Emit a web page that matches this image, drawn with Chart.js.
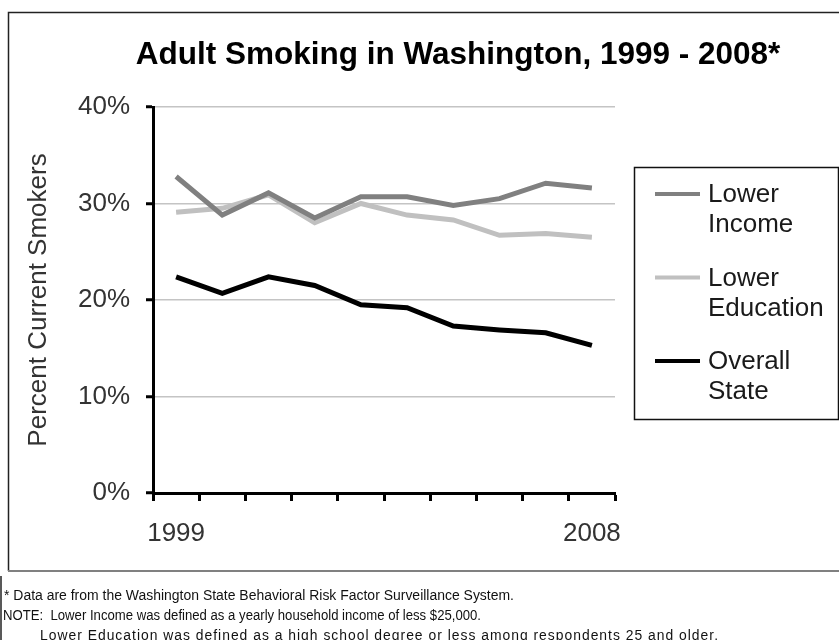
<!DOCTYPE html>
<html>
<head>
<meta charset="utf-8">
<script src="https://cdn.jsdelivr.net/npm/chart.js@4"></script>
<style>
  html, body { margin: 0; padding: 0; background: #fff; }
  #wrap { width: 839px; height: 640px; }
</style>
</head>
<body>
<div id="wrap"><canvas id="smokeChart" width="839" height="640"></canvas></div>
<script>
const YEARS = ["1999", "2000", "2001", "2002", "2003", "2004", "2005", "2006", "2007", "2008"];
const X_TICKS = ["1999", "", "", "", "", "", "", "", "", "2008"];
const Y_TICKS = [0, 10, 20, 30, 40];

const LOWER_INCOME = [32.8, 28.8, 31.1, 28.5, 30.7, 30.7, 29.8, 30.5, 32.1, 31.6];
const LOWER_EDUCATION = [29.1, 29.5, 30.9, 28.0, 30.0, 28.8, 28.3, 26.7, 26.9, 26.5];
const OVERALL_STATE = [22.4, 20.7, 22.4, 21.5, 19.5, 19.2, 17.3, 16.9, 16.6, 15.3];

const TITLE = "Adult Smoking in Washington, 1999 - 2008*";
const Y_TITLE = "Percent Current Smokers";
const NOTES = [
  "* Data are from the Washington State Behavioral Risk Factor Surveillance System.",
  "NOTE:  Lower Income was defined as a yearly household income of less $25,000.",
  "Lower Education was defined as a high school degree or less among respondents 25 and older.",
];

const ctx = document.getElementById("smokeChart").getContext("2d");

// frame, title, legend box and footnotes drawn around the chart
const decor = {
  id: "decor",
  beforeDraw(chart) {
    const c = chart.ctx;
    c.save();
    c.fillStyle = "#fff";
    c.fillRect(0, 0, chart.width, chart.height);
    c.restore();
  },
  afterDraw(chart) {
    const c = chart.ctx;
    c.save();

    // chart frame
    c.strokeStyle = "#222";
    c.lineWidth = 1.5;
    c.beginPath();
    c.moveTo(8.5, 571);
    c.lineTo(8.5, 12.5);
    c.lineTo(845, 12.5);
    c.stroke();
    c.strokeStyle = "#808080";
    c.lineWidth = 2;
    c.beginPath();
    c.moveTo(8, 571);
    c.lineTo(839, 571);
    c.stroke();

    // notes box edge
    c.strokeStyle = "#222";
    c.lineWidth = 1.5;
    c.beginPath();
    c.moveTo(1, 576);
    c.lineTo(1, 640);
    c.stroke();

    // title
    c.fillStyle = "#000";
    c.font = "bold 31.5px 'Liberation Sans', Arial, sans-serif";
    c.textAlign = "center";
    c.textBaseline = "middle";
    c.fillText(TITLE, 458, 55);

    // legend
    c.strokeStyle = "#111";
    c.lineWidth = 1.5;
    c.strokeRect(634.5, 167.5, 204, 252);
    c.font = "26px 'Liberation Sans', Arial, sans-serif";
    c.textAlign = "left";
    chart.data.datasets.forEach((ds, i) => {
      const y = 194 + i * 83.5;
      c.strokeStyle = ds.borderColor;
      c.lineWidth = 4;
      c.beginPath();
      c.moveTo(655, y);
      c.lineTo(700, y);
      c.stroke();
      c.fillStyle = "#1a1a1a";
      ds.label.split(" ").forEach((w, j) => {
        c.fillText(w, 708, y + 1 + j * 30);
      });
    });

    // notes
    c.fillStyle = "#111";
    c.font = "14px 'Liberation Sans', Arial, sans-serif";
    c.fillText(NOTES[0], 4, 596, 510);
    c.fillText(NOTES[1], 3, 616, 478);
    c.letterSpacing = "1px";
    c.fillText(NOTES[2], 40, 636, 679);

    c.restore();
  },
};

const config = {
  type: "line",
  data: {
    labels: YEARS,
    datasets: [
      {
        label: "Lower Income",
        data: LOWER_INCOME,
        borderColor: "#808080",
        backgroundColor: "#808080",
        borderWidth: 5,
        pointRadius: 0,
        tension: 0,
        fill: false,
      },
      {
        label: "Lower Education",
        data: LOWER_EDUCATION,
        borderColor: "#c0c0c0",
        backgroundColor: "#c0c0c0",
        borderWidth: 5,
        pointRadius: 0,
        tension: 0,
        fill: false,
      },
      {
        label: "Overall State",
        data: OVERALL_STATE,
        borderColor: "#000",
        backgroundColor: "#000",
        borderWidth: 5,
        pointRadius: 0,
        tension: 0,
        fill: false,
      },
    ],
  },
  options: {
    responsive: false,
    animation: false,
    devicePixelRatio: 1,
    layout: {
      padding: { left: 0, top: 107, right: 224, bottom: 0 },
    },
    plugins: {
      legend: { display: false },
      title: { display: false },
      tooltip: { enabled: false },
    },
    scales: {
      x: {
        offset: true,
        afterFit(scale) {
          scale.height = 147;
        },
        grid: {
          offset: true,
          drawOnChartArea: false,
          drawTicks: true,
          tickLength: 8,
          tickColor: "#000",
          tickWidth: 3,
        },
        border: { display: true, color: "#000", width: 3 },
        ticks: {
          autoSkip: false,
          maxRotation: 0,
          padding: 17,
          color: "#333",
          font: { family: "'Liberation Sans', Arial, sans-serif", size: 26 },
          callback: (v, i) => X_TICKS[i],
        },
      },
      y: {
        min: Y_TICKS[0],
        max: Y_TICKS[Y_TICKS.length - 1],
        afterFit(scale) {
          scale.width = 153;
        },
        afterBuildTicks(scale) {
          scale.ticks = Y_TICKS.map((v) => ({ value: v }));
        },
        grid: {
          color: "#c4c4c4",
          lineWidth: 1.5,
          tickLength: 7,
          tickColor: "#000",
          tickWidth: 3,
        },
        border: { display: true, color: "#000", width: 3 },
        ticks: {
          padding: 16,
          color: "#333",
          font: { family: "'Liberation Sans', Arial, sans-serif", size: 26 },
          callback: (v) => v + "%",
        },
        title: {
          display: true,
          text: Y_TITLE,
          color: "#333",
          padding: { top: 23, bottom: 0 },
          font: { family: "'Liberation Sans', Arial, sans-serif", size: 26 },
        },
      },
    },
  },
  plugins: [decor],
};

const smokeChart = new Chart(ctx, config);
</script>
</body>
</html>
